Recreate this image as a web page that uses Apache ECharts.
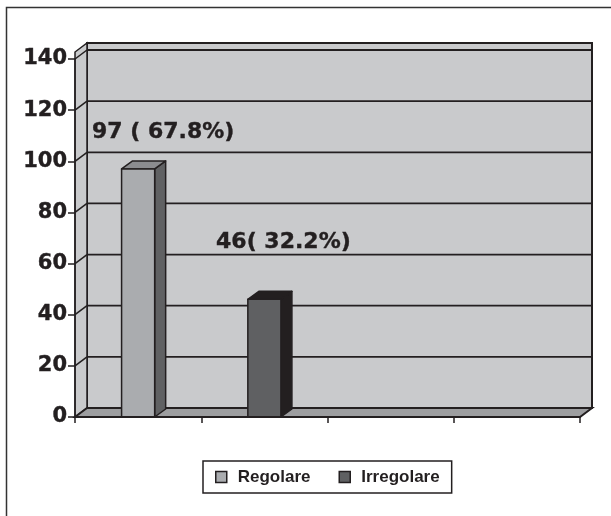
<!DOCTYPE html>
<html>
<head>
<meta charset="utf-8">
<script src="https://cdn.jsdelivr.net/npm/echarts@6/dist/echarts.min.js"></script>
<style>
  html, body { margin: 0; padding: 0; background: #ffffff; }
  #chart { width: 611px; height: 516px; }
</style>
</head>
<body>
<div id="chart"></div>
<script>
// Category slots along the floor (unlabelled)
const categories = ['', '', '', ''];
const seriesNames = ['Regolare', 'Irregolare'];
const regolare = [97, null, null, null];
const irregolare = [null, 46, null, null];
const dataLabels = ['97 ( 67.8%)', '46( 32.2%)'];
const yTicks = [0, 20, 40, 60, 80, 100, 120, 140];

const INK = '#231f20';
const WALL = '#c9cacc';
const FLOOR = '#9d9ea0';
// depth offset of the back wall and of the columns
const WDX = 12, WDY = -9;
const BDX = 11, BDY = -8;

function toPairs(arr) {
  const out = [];
  arr.forEach(function (v, i) { if (v !== null) out.push([i, v]); });
  return out;
}

// walls, floor and grid lines of the 3D box
function frameRenderer(params, api) {
  const cs = params.coordSys;
  const L = cs.x, R = cs.x + cs.width;
  const y0 = api.coord([0, 0])[1];
  const yTop = api.coord([0, yTicks[yTicks.length - 1]])[1];
  const kids = [];
  // back wall
  kids.push({ type: 'rect', shape: { x: L + WDX, y: yTop + WDY - 7, width: R - L, height: y0 - yTop + 7 },
    style: { fill: WALL, stroke: INK, lineWidth: 2 } });
  // left side wall
  kids.push({ type: 'polygon', shape: { points: [[L, y0], [L, yTop - 7], [L + WDX, yTop + WDY - 7], [L + WDX, y0 + WDY]] },
    style: { fill: WALL, stroke: INK, lineWidth: 1.5 } });
  // grid lines on back and side walls
  yTicks.forEach(function (v) {
    if (v === 0) return;
    const yf = api.coord([0, v])[1];
    kids.push({ type: 'line', shape: { x1: L + WDX, y1: yf + WDY, x2: R + WDX, y2: yf + WDY },
      style: { stroke: INK, lineWidth: 1.8 } });
    kids.push({ type: 'line', shape: { x1: L, y1: yf, x2: L + WDX, y2: yf + WDY },
      style: { stroke: INK, lineWidth: 1.5 } });
  });
  // floor
  kids.push({ type: 'polygon', shape: { points: [[L, y0], [R, y0], [R + WDX, y0 + WDY], [L + WDX, y0 + WDY]] },
    style: { fill: FLOOR, stroke: INK, lineWidth: 2 } });
  return { type: 'group', children: kids };
}

function barRenderer(face, side, top, labelText, labelShift) {
  return function (params, api) {
    const cat = api.value(0), val = api.value(1);
    const pTop = api.coord([cat, val]);
    const pBase = api.coord([cat, 0]);
    const w = api.size([1, 0])[0] * 0.262;
    const x0 = pTop[0] - w / 2, x1 = pTop[0] + w / 2;
    const yT = pTop[1], yB = pBase[1];
    const st = { stroke: INK, lineWidth: 1.5, lineJoin: 'round' };
    return {
      type: 'group',
      children: [
        { type: 'polygon', shape: { points: [[x1, yT], [x1 + BDX, yT + BDY], [x1 + BDX, yB + BDY], [x1, yB]] },
          style: Object.assign({ fill: side }, st) },
        { type: 'polygon', shape: { points: [[x0, yT], [x1, yT], [x1 + BDX, yT + BDY], [x0 + BDX, yT + BDY]] },
          style: Object.assign({ fill: top }, st) },
        { type: 'rect', shape: { x: x0, y: yT, width: w, height: yB - yT },
          style: Object.assign({ fill: face }, st) },
        { type: 'text', x: pTop[0] + labelShift[0], y: yT + labelShift[1],
          style: { text: labelText, fill: INK, font: 'bold 22px "DejaVu Sans", sans-serif',
            stroke: INK, lineWidth: 0.4, align: 'center', verticalAlign: 'middle' } }
      ]
    };
  };
}

const chart = echarts.init(document.getElementById('chart'), null, { renderer: 'canvas' });
chart.setOption({
  animation: false,
  backgroundColor: '#ffffff',
  grid: { left: 75, right: 31, top: 59, bottom: 99, containLabel: false },
  xAxis: {
    type: 'category', data: categories, boundaryGap: true, z: 5,
    axisLine: { show: true, lineStyle: { color: INK, width: 2 } },
    axisTick: { show: true, length: 6, lineStyle: { color: INK, width: 1.5 } },
    axisLabel: { show: false },
    splitLine: { show: false }
  },
  yAxis: {
    type: 'value', min: 0, max: 140, interval: 20, z: 5,
    axisLine: { show: true, lineStyle: { color: INK, width: 1.5 } },
    axisTick: { show: true, length: 7, lineStyle: { color: INK, width: 1.5 } },
    axisLabel: { margin: 8, color: INK, fontFamily: '"DejaVu Sans", sans-serif', fontWeight: 'bold', fontSize: 21,
      textBorderColor: INK, textBorderWidth: 0.4 },
    splitLine: { show: false }
  },
  legend: {
    left: 203, top: 461,
    padding: [7, 12, 7, 12],
    borderColor: INK, borderWidth: 1.5,
    itemWidth: 11, itemHeight: 11, itemGap: 28,
    icon: 'rect',
    itemStyle: { borderColor: INK, borderWidth: 1.5 },
    textStyle: { fontFamily: '"Liberation Sans", Arial, sans-serif', fontWeight: 'bold', fontSize: 17,
      lineHeight: 18, color: INK, padding: [0, 0, 0, 6] },
    data: seriesNames
  },
  graphic: [
    { type: 'rect', left: 4, top: 5, shape: { x: 0, y: 0, width: 700, height: 600 },
      style: { fill: 'none', stroke: '#333333', lineWidth: 1.5 }, silent: true }
  ],
  series: [
    { type: 'custom', name: 'frame', data: [[0, 0]], renderItem: frameRenderer, z: 1, silent: true },
    { type: 'custom', name: seriesNames[0], data: toPairs(regolare), encode: { x: 0, y: 1 }, z: 3,
      itemStyle: { color: '#aaacaf' },
      renderItem: barRenderer('#aaacaf', '#606163', '#8b8c8f', dataLabels[0], [25, -37]) },
    { type: 'custom', name: seriesNames[1], data: toPairs(irregolare), encode: { x: 0, y: 1 }, z: 3,
      itemStyle: { color: '#5f6062' },
      renderItem: barRenderer('#5f6062', INK, INK, dataLabels[1], [19, -57]) }
  ]
});
</script>
</body>
</html>
